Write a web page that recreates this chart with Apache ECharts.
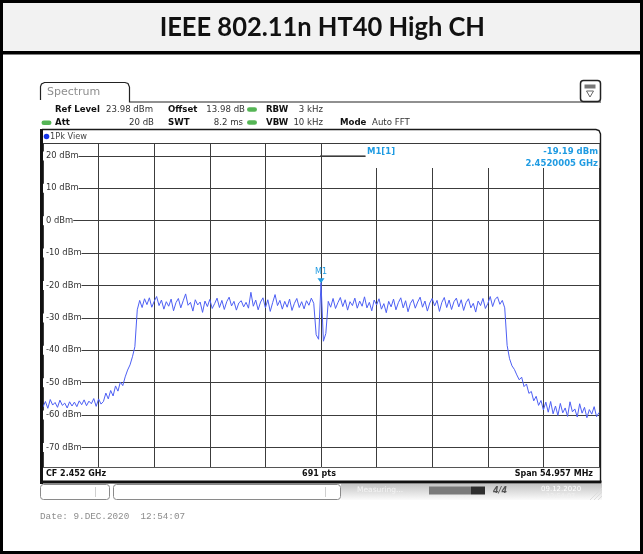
<!DOCTYPE html>
<html>
<head>
<meta charset="utf-8">
<script src="https://cdn.jsdelivr.net/npm/echarts@6/dist/echarts.min.js"></script>
<style>
  html, body { margin: 0; padding: 0; background: #fff; }
  #chart { width: 643px; height: 554px; }
</style>
</head>
<body>
<div id="chart"></div>
<script>
// Analyzer sweep settings
const titleText = 'IEEE 802.11n HT40 High CH';
const centerMHz = 2452;
const spanMHz = 54.957;
const refLevel = 23.98;
const rangeDb = 100;
const levelTicks = [20, 10, 0, -10, -20, -30, -40, -50, -60, -70];
const divisions = 10;
const markerFreqMHz = 2452.0005;
const markerLevel = -19.19;

// Trace 1 (1Pk View), dBm, read across the sweep from left to right
const floorLeft = [-57.5, -55.8, -57.9, -55.2, -56.9, -56.1, -57.6, -55.4, -57.0, -56.3,
  -57.8, -55.9, -57.2, -56.0, -57.4, -55.6, -56.8, -55.3, -57.1, -55.7,
  -56.5, -54.9, -57.3, -55.0, -56.6];
const riseEdge = [-55.8, -53.2, -55.0, -52.4, -54.1, -51.0, -52.6, -49.8, -50.9, -48.2,
  -46.1, -44.5, -42.0, -38.9];
const bandLower = [-27.5, -24.6, -26.8, -24.1, -25.9, -23.8, -26.7, -24.9, -23.4, -26.2,
  -24.5, -27.3, -25.0, -26.4, -24.2, -27.8, -25.3, -24.0, -26.9, -24.7,
  -22.6, -26.1, -25.2, -27.9, -24.4, -26.0, -25.1, -28.3, -24.8, -26.5,
  -24.3, -27.1, -25.6, -23.9, -26.8, -24.6, -27.4, -25.0, -23.6, -26.3,
  -24.9, -27.6, -25.4, -24.7, -26.6, -25.2, -27.0, -22.1, -26.4, -24.5,
  -27.5, -25.1, -23.8, -26.9, -24.4, -28.0, -25.3, -22.8, -26.2, -24.6,
  -27.3, -24.9, -26.7, -24.2, -27.7, -25.5, -24.0, -26.8, -25.0, -27.2,
  -24.7, -26.1, -23.9, -25.5];
const centerNotch = [-35.2, -36.6, markerLevel, -37.2, -34.8];
const bandUpper = [-24.9, -26.7, -24.0, -27.1, -25.3, -23.7, -26.5, -24.4, -27.6, -25.0,
  -26.2, -23.9, -27.0, -24.8, -26.4, -23.5, -26.9, -25.2, -27.8, -24.5,
  -26.0, -24.1, -27.3, -25.6, -28.4, -24.9, -26.6, -24.2, -27.5, -25.3,
  -23.8, -26.9, -24.7, -28.1, -25.5, -24.3, -27.0, -25.1, -23.6, -26.7,
  -24.8, -27.9, -25.4, -24.0, -26.3, -24.6, -28.0, -25.2, -23.7, -26.8,
  -24.5, -27.4, -25.0, -23.9, -26.6, -24.4, -27.7, -25.3, -24.1, -26.9,
  -25.5, -28.2, -24.8, -26.2, -24.0, -27.1, -25.6, -23.4, -26.5, -24.3,
  -23.5, -25.8, -24.6, -26.9];
const fallEdge = [-38.5, -42.6, -44.8, -45.9, -47.6, -49.1, -48.3, -51.2, -50.4, -53.3,
  -52.7, -55.6, -54.2, -57.0, -55.5, -58.4, -56.0];
const floorRight = [-59.1, -55.8, -59.6, -57.2, -60.1, -56.4, -59.3, -57.8, -60.4, -55.9,
  -59.0, -58.1, -60.6, -56.5, -59.4, -57.6, -60.8, -58.3, -59.7, -57.4,
  -60.5, -59.2];

const traceLevels = [].concat(floorLeft, riseEdge, bandLower, centerNotch, bandUpper, fallEdge, floorRight);
const startMHz = centerMHz - spanMHz / 2;
const stopMHz = centerMHz + spanMHz / 2;
const stepMHz = spanMHz / (traceLevels.length - 1);
const traceData = traceLevels.map((v, i) => [startMHz + i * stepMHz, v]);
const freqGrid = [];
for (let k = 0; k <= divisions; k++) freqGrid.push(startMHz + k * spanMHz / divisions);

const TXT = 'DejaVu Sans, Verdana, sans-serif';
const GRID_COLOR = '#3c3c3c';
const MARKER_BLUE = '#1f9be2';
const TRACE_BLUE = '#4d5ff4';

function label(x, y, text, opts) {
  return {
    type: 'text', x: x, y: y, z: 20,
    style: Object.assign({
      text: text, font: '8.6px ' + TXT, fill: '#333',
      textAlign: 'left', textVerticalAlign: 'middle'
    }, opts || {})
  };
}
function bold(x, y, text, opts) {
  return label(x, y, text, Object.assign({ font: 'bold 8.6px ' + TXT, fill: '#111' }, opts || {}));
}
function pill(x, y) {
  return { type: 'rect', z: 20, shape: { x: x, y: y, width: 10, height: 4.6, r: 2.3 }, style: { fill: '#55b555' } };
}
function seg(x1, y1, x2, y2, stroke, z) {
  return { type: 'line', z: z || 20, shape: { x1: x1, y1: y1, x2: x2, y2: y2 }, style: { stroke: stroke, lineWidth: 1 } };
}

const graphics = [
  // title bar and outer frame
  { type: 'rect', z: 1, shape: { x: 0, y: 0, width: 643, height: 52 }, style: { fill: '#f2f2f2' } },
  { type: 'rect', z: 30, shape: { x: 0, y: 51, width: 643, height: 3.5 }, style: { fill: '#000' } },
  { type: 'rect', z: 30, shape: { x: 1.5, y: 1.5, width: 640, height: 551 }, style: { fill: null, stroke: '#000', lineWidth: 3 } },
  { type: 'text', z: 30, x: 316, y: 28, scaleX: 0.98, originX: 316, style: { text: titleText, font: 'bold 26px Lato, "Open Sans", sans-serif', fill: '#111', textAlign: 'center', textVerticalAlign: 'middle' } },

  // Spectrum tab
  { type: 'polyline', z: 20, shape: { points: [[40.5, 100], [40.5, 86.5], [41.5, 84], [44.5, 82.5], [125, 82.5], [128, 83.5], [129.5, 87], [129.5, 102], [601, 102]] }, style: { fill: null, stroke: '#222', lineWidth: 1.2 } },
  label(47, 92.5, 'Spectrum', { font: '11px ' + TXT, fill: '#8e8e8e' }),
  { type: 'rect', z: 20, shape: { x: 580.5, y: 80.5, width: 20, height: 21, r: 3 }, style: { fill: '#fff', stroke: '#222', lineWidth: 1.5 } },
  { type: 'rect', z: 21, shape: { x: 584.5, y: 84.5, width: 11, height: 4 }, style: { fill: '#777' } },
  { type: 'polygon', z: 21, shape: { points: [[586.5, 91], [593.5, 91], [590, 97]] }, style: { fill: '#fff', stroke: '#666', lineWidth: 1 } },

  // setting rows
  bold(55, 109.5, 'Ref Level'), label(106, 109.5, refLevel.toFixed(2) + ' dBm'),
  bold(168, 109.5, 'Offset'), label(245, 109.5, '13.98 dB', { textAlign: 'right' }),
  pill(247, 107.2), bold(266, 109.5, 'RBW'), label(323, 109.5, '3 kHz', { textAlign: 'right' }),
  pill(41.5, 120.5), bold(55, 122.5, 'Att'), label(154, 122.5, '20 dB', { textAlign: 'right' }),
  bold(168, 122.5, 'SWT'), label(243, 122.5, '8.2 ms', { textAlign: 'right' }),
  pill(247, 120.2), bold(266, 122.5, 'VBW'), label(323, 122.5, '10 kHz', { textAlign: 'right' }),
  bold(340, 122.5, 'Mode'), label(372, 122.5, 'Auto FFT'),

  // diagram frame
  { type: 'polyline', z: 20, shape: { points: [[42, 129.5], [596, 129.5], [599, 130.5], [600.5, 134], [600.5, 482]] }, style: { fill: null, stroke: '#1a1a1a', lineWidth: 1.4 } },
  { type: 'rect', z: 20, shape: { x: 40, y: 129, width: 3, height: 355 }, style: { fill: '#111' } },
  seg(43, 143.5, 600, 143.5, '#3a3a3a'),
  { type: 'circle', z: 20, shape: { cx: 46.5, cy: 136.5, r: 2.8 }, style: { fill: '#1535e8' } },
  label(50, 136.5, '1Pk View', { font: '8.2px ' + TXT, fill: '#444' }),
  seg(43, 467.5, 600, 467.5, '#555'),
  { type: 'rect', z: 20, shape: { x: 40, y: 480.5, width: 561.5, height: 3 }, style: { fill: '#111' } },
  bold(46, 474, 'CF ' + (centerMHz / 1000).toFixed(3) + ' GHz', { font: 'bold 8px ' + TXT }),
  bold(319, 474, '691 pts', { font: 'bold 8px ' + TXT, textAlign: 'center' }),
  bold(593, 474, 'Span ' + spanMHz.toFixed(3) + ' MHz', { font: 'bold 8px ' + TXT, textAlign: 'right' }),

  // marker readout
  { type: 'rect', z: 15, shape: { x: 365.5, y: 144, width: 234, height: 24 }, style: { fill: '#fff' } },
  seg(320, 155.9, 365.5, 155.9, GRID_COLOR, 16),
  bold(367, 151.5, 'M1[1]', { fill: MARKER_BLUE, font: 'bold 8.5px ' + TXT }),
  bold(598, 151.5, markerLevel.toFixed(2) + ' dBm', { fill: MARKER_BLUE, font: 'bold 8.5px ' + TXT, textAlign: 'right' }),
  bold(598, 163.5, (markerFreqMHz / 1000).toFixed(7) + ' GHz', { fill: MARKER_BLUE, font: 'bold 8.5px ' + TXT, textAlign: 'right' }),

  // status bar
  { type: 'rect', z: 20, shape: { x: 40.5, y: 484.5, width: 69, height: 15, r: 3 }, style: { fill: '#fff', stroke: '#8a8a8a', lineWidth: 1 } },
  seg(95.5, 487, 95.5, 497, '#d0d0d0', 21),
  { type: 'rect', z: 20, shape: { x: 113.5, y: 484.5, width: 227, height: 15, r: 3 }, style: { fill: '#fff', stroke: '#8a8a8a', lineWidth: 1 } },
  seg(325.5, 487, 325.5, 497, '#d0d0d0', 21),
  { type: 'rect', z: 20, shape: { x: 341, y: 484, width: 261, height: 16 }, style: {
      fill: new echarts.graphic.LinearGradient(0, 0, 0, 1, [{ offset: 0, color: '#c4c4c4' }, { offset: 1, color: '#fbfbfb' }]) } },
  label(357, 490, 'Measuring...', { font: '7.5px ' + TXT, fill: '#f4f4f4' }),
  { type: 'rect', z: 21, shape: { x: 429, y: 486.5, width: 42, height: 8 }, style: { fill: '#7a7a7a' } },
  { type: 'rect', z: 21, shape: { x: 471, y: 486.5, width: 14, height: 8 }, style: { fill: '#2e2e2e' } },
  label(493, 490.5, '4/4', { font: 'italic bold 8px ' + TXT, fill: '#555' }),
  label(541, 489, '09.12.2020', { font: '7px ' + TXT, fill: '#ffffff' }),
  label(546, 496, '12:54:07', { font: '6.5px ' + TXT, fill: '#f0f0f0' }),
  seg(590, 500, 602, 488, '#dcdcdc', 21),
  seg(594, 500, 602, 492, '#dcdcdc', 21),
  seg(598, 500, 602, 496, '#dcdcdc', 21),

  // print footer
  label(40, 517, 'Date: 9.DEC.2020  12:54:07', { font: '9.3px "Liberation Mono", "DejaVu Sans Mono", monospace', fill: '#8c8c8c' })
];

const chart = echarts.init(document.getElementById('chart'), null, { renderer: 'canvas' });
chart.setOption({
  animation: false,
  backgroundColor: '#fff',
  grid: { left: 43, top: 143, width: 556, height: 324, containLabel: false },
  xAxis: {
    type: 'value', min: startMHz, max: stopMHz,
    axisLine: { show: false },
    axisTick: { show: false, customValues: freqGrid },
    axisLabel: { show: false },
    splitLine: { show: true, lineStyle: { color: GRID_COLOR, width: 1 } }
  },
  yAxis: [{
    type: 'value', min: refLevel - rangeDb, max: refLevel,
    axisLine: { show: false },
    axisTick: { show: false, customValues: levelTicks },
    axisLabel: { show: false },
    splitLine: { show: true, lineStyle: { color: GRID_COLOR, width: 1 } }
  }, {
    type: 'value', min: refLevel - rangeDb, max: refLevel, position: 'left', z: 6,
    axisLine: { show: false },
    axisTick: { show: false, customValues: levelTicks },
    axisLabel: {
      show: true, inside: true, margin: 0, customValues: levelTicks,
      formatter: v => v + ' dBm',
      color: '#333', fontSize: 8.4, fontFamily: TXT,
      backgroundColor: '#fff', padding: [1, 0, 0, 3]
    },
    splitLine: { show: false }
  }],
  series: [{
    type: 'line', yAxisIndex: 0, data: traceData,
    showSymbol: false, symbol: 'none',
    lineStyle: { color: TRACE_BLUE, width: 1 },
    z: 3,
    markPoint: {
      symbol: 'triangle', symbolRotate: 180, symbolSize: [7, 5], symbolOffset: [0, -2],
      itemStyle: { color: MARKER_BLUE },
      label: { show: true, position: 'top', distance: 2, formatter: 'M1', color: MARKER_BLUE, fontSize: 8, fontFamily: TXT },
      data: [{ coord: [markerFreqMHz, markerLevel] }]
    }
  }],
  graphic: graphics
});
</script>
</body>
</html>
